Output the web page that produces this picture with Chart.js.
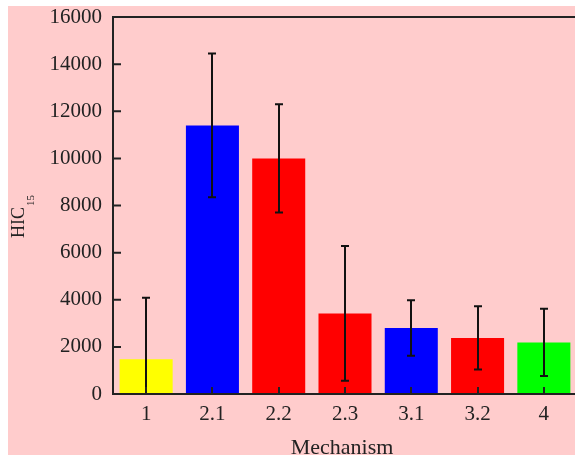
<!DOCTYPE html>
<html>
<head>
<meta charset="utf-8">
<script src="https://cdn.jsdelivr.net/npm/chart.js@4.4.1/dist/chart.umd.min.js"></script>
<style>
  html, body { margin: 0; padding: 0; background: #fff; overflow: hidden; }
  canvas { display: block; }
</style>
</head>
<body>
<canvas id="hicChart" width="578" height="458"></canvas>
<script>
// data
const categories = ["1", "2.1", "2.2", "2.3", "3.1", "3.2", "4"];
const hicValues = [1480, 11400, 10000, 3420, 2800, 2380, 2190];
const hicErrors = [2600, 3050, 2300, 2860, 1180, 1340, 1430];
const barColors = ["#ffff00", "#0000ff", "#ff0000", "#ff0000", "#0000ff", "#ff0000", "#00ff00"];
const yTicks = [0, 2000, 4000, 6000, 8000, 10000, 12000, 14000, 16000];

const FONT = "'Liberation Serif', 'Times New Roman', serif";
const INK = "#222";

/* ================= PLUGIN: background, frame, ticks, error bars ================= */
const decor = {
  id: "decor",
  beforeDraw(chart) {
    const ctx = chart.ctx;
    ctx.save();
    ctx.fillStyle = "#fff";
    ctx.fillRect(0, 0, chart.width, chart.height);
    ctx.fillStyle = "#ffcccc";
    ctx.fillRect(8, 6, chart.width - 8, 449);
    ctx.restore();
  },
  afterDatasetsDraw(chart) {
    const { ctx, chartArea: a, scales: { x, y } } = chart;
    ctx.save();

    // error bars
    ctx.save();
    ctx.beginPath();
    ctx.rect(a.left, a.top, a.right - a.left, a.bottom - a.top);
    ctx.clip();
    ctx.strokeStyle = "#111";
    ctx.lineWidth = 2;
    hicValues.forEach((v, i) => {
      const px = Math.round(x.getPixelForValue(i));
      const top = y.getPixelForValue(v + hicErrors[i]);
      const bot = y.getPixelForValue(v - hicErrors[i]);
      ctx.beginPath();
      ctx.moveTo(px, top);
      ctx.lineTo(px, bot);
      ctx.moveTo(px - 4, top);
      ctx.lineTo(px + 4, top);
      ctx.moveTo(px - 4, bot);
      ctx.lineTo(px + 4, bot);
      ctx.stroke();
    });
    ctx.restore();

    // inward ticks
    ctx.strokeStyle = INK;
    ctx.lineWidth = 2;
    ctx.beginPath();
    yTicks.forEach(t => {
      const py = y.getPixelForValue(t);
      ctx.moveTo(a.left, py);
      ctx.lineTo(a.left + 8, py);
    });
    categories.forEach((c, i) => {
      const px = Math.round(x.getPixelForValue(i));
      ctx.moveTo(px, a.bottom);
      ctx.lineTo(px, a.bottom - 7);
    });
    ctx.stroke();

    // frame
    ctx.beginPath();
    ctx.moveTo(chart.width, a.top);
    ctx.lineTo(a.left, a.top);
    ctx.lineTo(a.left, a.bottom);
    ctx.lineTo(chart.width, a.bottom);
    ctx.stroke();

    // axis titles
    ctx.fillStyle = INK;
    ctx.font = "22px " + FONT;
    ctx.textAlign = "center";
    ctx.textBaseline = "alphabetic";
    ctx.fillText("Mechanism", 342, 454);

    ctx.translate(24, 238);
    ctx.rotate(-Math.PI / 2);
    ctx.textAlign = "left";
    ctx.font = "18px " + FONT;
    ctx.fillText("HIC", 0, 0);
    const w = ctx.measureText("HIC").width;
    ctx.font = "11px " + FONT;
    ctx.fillText("15", w + 1, 10);

    ctx.restore();
  }
};

/* ================= CHART ================= */
new Chart(document.getElementById("hicChart"), {
  type: "bar",
  data: {
    labels: categories,
    datasets: [{
      data: hicValues,
      backgroundColor: barColors,
      borderWidth: 0,
      barPercentage: 0.8,
      categoryPercentage: 1
    }]
  },
  options: {
    responsive: false,
    animation: false,
    devicePixelRatio: 1,
    layout: { padding: { top: 17, right: 1, left: 0, bottom: 0 } },
    plugins: {
      legend: { display: false },
      tooltip: { enabled: false }
    },
    scales: {
      x: {
        grid: { display: false, drawTicks: false },
        border: { display: false },
        ticks: { color: INK, font: { family: FONT, size: 21 }, padding: 8 },
        afterFit: s => { s.height = 64; s.paddingLeft = 0; s.paddingRight = 0; }
      },
      y: {
        min: 0,
        max: 16000,
        afterBuildTicks: s => { s.ticks = yTicks.map(v => ({ value: v })); },
        grid: { display: false, drawTicks: false },
        border: { display: false },
        ticks: {
          color: INK,
          font: { family: FONT, size: 21 },
          padding: 11,
          callback: v => String(v)
        },
        afterFit: s => { s.width = 113; s.paddingTop = 0; s.paddingBottom = 0; }
      }
    }
  },
  plugins: [decor]
});
</script>
</body>
</html>
